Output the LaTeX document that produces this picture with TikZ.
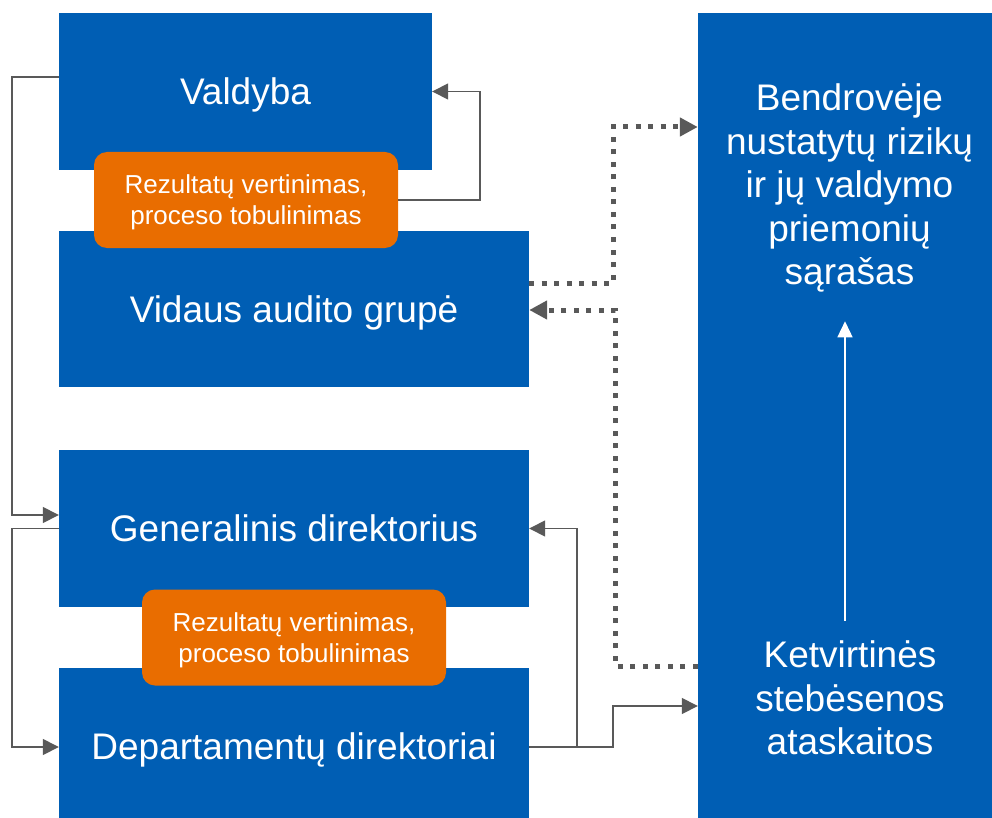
\documentclass[tikz,border=0pt]{standalone}
\usepackage{fontspec}
\setmainfont{Liberation Sans}
\usepackage{tikz}
\usetikzlibrary{arrows.meta,calc}

\definecolor{boxblue}{RGB}{0,94,180}
\definecolor{rezorange}{RGB}{233,109,0}
\definecolor{linkgray}{RGB}{89,89,89}

\tikzset{
    bigtext/.style={text=white, align=center, text depth=0pt,
        font=\fontsize{37}{43.5}\selectfont},
    blockbox/.style={bigtext, draw=none, fill=boxblue, text height=26.5pt},
    rezbox/.style={draw=none, fill=rezorange, text=white, align=center,
        rounded corners=13pt, minimum width=304pt, minimum height=96pt,
        text height=49.6pt, text depth=0pt,
        font=\fontsize{26}{31}\selectfont},
    link/.style={draw=linkgray, line width=1.5pt,
        -{Triangle[length=16pt, width=16pt]}},
    dotlink/.style={draw=linkgray, line width=5pt, dash pattern=on 5pt off 7.5pt,
        -{Triangle[length=18pt, width=18pt]}},
}

\begin{document}
\begin{tikzpicture}[x=1pt, y=-1pt]
    \useasboundingbox (0,0) rectangle (992,818);
    %% Upper boxes
    \node[blockbox, minimum width=373pt, minimum height=157pt] (valdyba) at (245.5,91.5) {Valdyba};
    \node[blockbox, minimum width=470pt, minimum height=156pt] (vidaus) at (294,309) {Vidaus audito grupė};
    \node[rezbox] (rez1) at (246,200) {Rezultatų vertinimas,\\proceso tobulinimas};
    %% Lower boxes
    \node[blockbox, minimum width=470pt, minimum height=157pt] (gendir) at (294,528.5) {Generalinis direktorius};
    \node[blockbox, minimum width=470pt, minimum height=157pt] (depdir) at (294,746.5) {Departamentų direktoriai};
    \node[rezbox] (rez2) at (294,637.5) {Rezultatų vertinimas,\\proceso tobulinimas};
    %% Right column
    \node[blockbox, minimum width=294pt, minimum height=805pt] (sarasas) at (845,415.5) {};
    \node[bigtext, text height=200.5pt] (riziku) at (849.5,184.5)
        {Bendrovėje\\nustatytų rizikų\\ir jų valdymo\\priemonių\\sąrašas};
    \node[bigtext, text height=113.5pt] (ataskaitos) at (850,698)
        {Ketvirtinės\\stebėsenos\\ataskaitos};
    \draw[white, line width=1.5pt, -{Triangle[length=16pt, width=15pt]},
        shorten <=17pt, shorten >=33pt] (ataskaitos.north -| sarasas) -- (riziku.south -| sarasas);

    %% Links
    \draw[link] ([yshift=14.5pt]valdyba.west) -- ++(-47,0) |- ([yshift=13.5pt]gendir.west);
    \draw[link] (gendir.west) -- ++(-47,0) |- ([yshift=-0.5pt]depdir.west);
    \draw[link] (rez1.east) -- ++(82,0) |- (valdyba.east);
    \draw[link] ([yshift=-0.5pt]depdir.east) -- ++(48,0) |- (gendir.east);
    \draw[link] ([yshift=-0.5pt]depdir.east) -- ++(84,0) |- ([yshift=-8pt]ataskaitos.west -| sarasas.west);
    %% Dotted links
    \draw[dotlink] ([yshift=26pt]vidaus.east) -- ++(84,0) |- ([yshift=57.5pt]riziku.west -| sarasas.west);
    \draw[dotlink] ([yshift=32pt]ataskaitos.west -| sarasas.west) -- ++(-82,0) |- ([yshift=-1pt]vidaus.east);
\end{tikzpicture}
\end{document}
